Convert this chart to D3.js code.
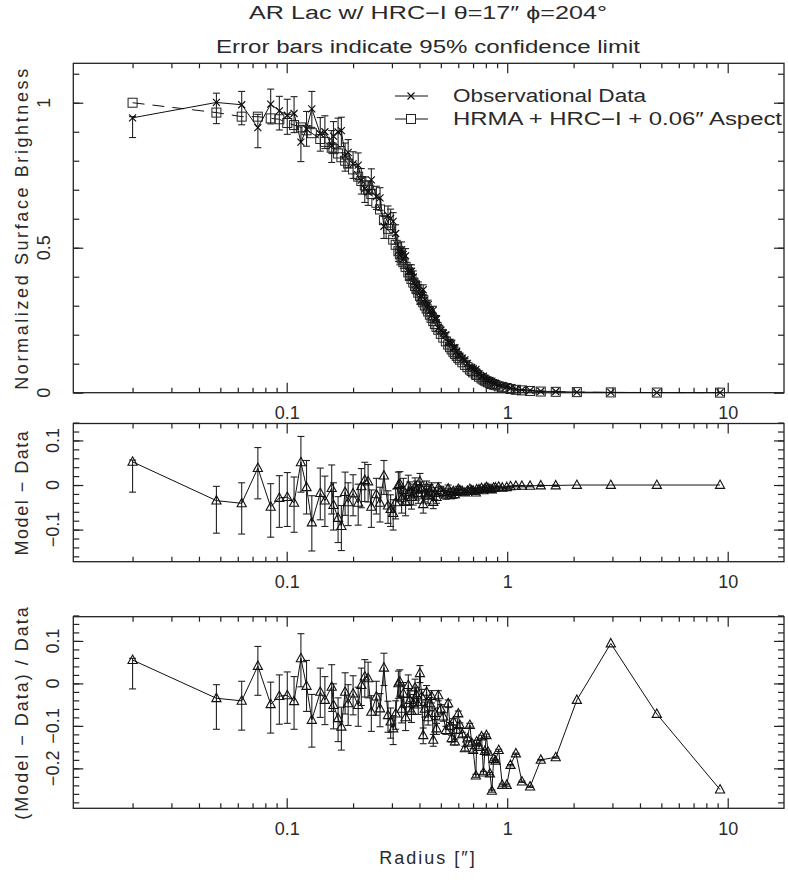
<!DOCTYPE html>
<html>
<head>
<meta charset="utf-8">
<script src="https://cdn.jsdelivr.net/npm/d3@7"></script>
<style>
  body { margin: 0; background: #fff; }
  svg text { font-family: "Liberation Sans", Arial, sans-serif; font-size: 18px; fill: #2a2a2a; }
</style>
</head>
<body>
<div id="chart"></div>
<script>
// radius of each annulus (arcsec)
const radius = [0.020, 0.048, 0.0625, 0.074, 0.0846, 0.0926, 0.1006, 0.108, 0.116, 0.123,
  0.130, 0.142, 0.149, 0.160, 0.163, 0.171, 0.177, 0.184, 0.190, 0.200,
  0.211, 0.218, 0.226, 0.234, 0.242, 0.255, 0.265, 0.276, 0.288, 0.296,
  0.304, 0.312, 0.321, 0.326, 0.332, 0.338, 0.346, 0.356, 0.362, 0.368,
  0.375, 0.382, 0.388, 0.395, 0.402, 0.409, 0.416, 0.423, 0.431, 0.438,
  0.446, 0.454, 0.462, 0.470, 0.478, 0.487, 0.500, 0.513, 0.527, 0.540,
  0.550, 0.560, 0.570, 0.579, 0.590, 0.600, 0.610, 0.626, 0.643, 0.660,
  0.677, 0.690, 0.701, 0.721, 0.727, 0.745, 0.765, 0.780, 0.792, 0.805,
  0.818, 0.835, 0.852, 0.868, 0.885, 0.915, 0.950, 0.995, 1.035, 1.095,
  1.166, 1.270, 1.420, 1.660, 2.070, 2.950, 4.770, 9.230];

const obsData = [0.948, 1.001, 0.993, 0.914, 0.995, 0.972, 0.957, 0.963, 0.864, 0.910,
  0.979, 0.893, 0.900, 0.852, 0.885, 0.899, 0.904, 0.816, 0.829, 0.789,
  0.785, 0.733, 0.704, 0.692, 0.734, 0.676, 0.672, 0.574, 0.611, 0.601,
  0.591, 0.549, 0.488, 0.475, 0.493, 0.461, 0.472, 0.417, 0.419, 0.419,
  0.399, 0.372, 0.367, 0.363, 0.326, 0.333, 0.355, 0.320, 0.296, 0.304,
  0.282, 0.266, 0.285, 0.255, 0.254, 0.223, 0.216, 0.206, 0.199, 0.174,
  0.174, 0.171, 0.155, 0.155, 0.143, 0.129, 0.126, 0.119, 0.113, 0.101,
  0.089, 0.087, 0.083, 0.080, 0.071, 0.065, 0.056, 0.057, 0.050, 0.044,
  0.043, 0.042, 0.040, 0.034, 0.032, 0.026, 0.025, 0.021, 0.016, 0.012,
  0.010, 0.008, 0.005, 0.004, 0.002, 0.001, 0.0005, 0.0003];

const modelData = [1.000, 0.966, 0.952, 0.952, 0.946, 0.943, 0.930, 0.923, 0.915, 0.905,
  0.895, 0.875, 0.865, 0.845, 0.840, 0.825, 0.812, 0.800, 0.790, 0.770,
  0.745, 0.730, 0.715, 0.700, 0.685, 0.655, 0.632, 0.595, 0.565, 0.547,
  0.528, 0.510, 0.488, 0.477, 0.463, 0.450, 0.434, 0.415, 0.403, 0.392,
  0.380, 0.368, 0.357, 0.345, 0.334, 0.323, 0.312, 0.301, 0.290, 0.280,
  0.269, 0.258, 0.247, 0.237, 0.227, 0.217, 0.203, 0.190, 0.177, 0.166,
  0.157, 0.149, 0.141, 0.134, 0.127, 0.120, 0.114, 0.105, 0.096, 0.088,
  0.080, 0.075, 0.070, 0.063, 0.061, 0.055, 0.049, 0.045, 0.042, 0.039,
  0.036, 0.033, 0.030, 0.028, 0.026, 0.022, 0.019, 0.016, 0.013, 0.010,
  0.008, 0.006, 0.004, 0.003, 0.002, 0.001, 0.0005, 0.0002];

const modelMinusData = [0.052, -0.035, -0.041, 0.038, -0.049, -0.029, -0.027, -0.040, 0.051, -0.005,
  -0.084, -0.018, -0.035, -0.007, -0.045, -0.074, -0.092, -0.016, -0.039, -0.019,
  -0.040, -0.003, 0.011, 0.008, -0.049, -0.021, -0.040, 0.021, -0.046, -0.054,
  -0.063, -0.039, 0.000, 0.002, -0.030, -0.011, -0.038, -0.002, -0.016, -0.027,
  -0.019, -0.004, -0.010, -0.018, 0.008, -0.010, -0.043, -0.019, -0.006, -0.024,
  -0.013, -0.008, -0.038, -0.018, -0.027, -0.006, -0.013, -0.016, -0.022, -0.008,
  -0.017, -0.022, -0.014, -0.021, -0.016, -0.009, -0.012, -0.014, -0.017, -0.013,
  -0.009, -0.012, -0.013, -0.017, -0.010, -0.010, -0.007, -0.012, -0.008, -0.005,
  -0.007, -0.009, -0.010, -0.006, -0.006, -0.004, -0.006, -0.005, -0.003, -0.002,
  -0.002, -0.002, -0.001, -0.001, 0.000, 0.000, 0.000, 0.000];

const fracResidual = [0.055, -0.035, -0.041, 0.041, -0.049, -0.030, -0.028, -0.042, 0.059, -0.006,
  -0.086, -0.020, -0.039, -0.008, -0.051, -0.082, -0.102, -0.020, -0.047, -0.024,
  -0.051, -0.004, 0.016, 0.012, -0.067, -0.031, -0.059, 0.037, -0.075, -0.090,
  -0.106, -0.071, 0.000, 0.004, -0.060, -0.024, -0.080, -0.004, -0.039, -0.065,
  -0.047, -0.010, -0.028, -0.050, 0.024, -0.031, -0.122, -0.060, -0.020, -0.080,
  -0.047, -0.030, -0.133, -0.070, -0.106, -0.028, -0.060, -0.078, -0.110, -0.047,
  -0.100, -0.129, -0.090, -0.137, -0.110, -0.071, -0.098, -0.120, -0.153, -0.130,
  -0.098, -0.140, -0.157, -0.217, -0.137, -0.150, -0.125, -0.210, -0.159, -0.122,
  -0.161, -0.212, -0.253, -0.178, -0.182, -0.157, -0.239, -0.239, -0.192, -0.165,
  -0.231, -0.243, -0.180, -0.174, -0.039, 0.094, -0.072, -0.250];

// 95% confidence limits (upper / lower extent)
const errUp = [0.004, 0.032, 0.046, 0.046, 0.052, 0.050, 0.055, 0.058, 0.058, 0.060,
  0.060, 0.056, 0.055, 0.052, 0.050, 0.048, 0.046, 0.045, 0.044, 0.042,
  0.042, 0.040, 0.040, 0.038, 0.038, 0.036, 0.035, 0.034, 0.033, 0.032,
  0.030, 0.030, 0.029, 0.028, 0.027, 0.026, 0.025, 0.024, 0.023, 0.022,
  0.021, 0.020, 0.019, 0.019, 0.018, 0.017, 0.017, 0.016, 0.015, 0.015,
  0.014, 0.013, 0.013, 0.012, 0.012, 0.011, 0.010, 0.009, 0.009, 0.008,
  0.008, 0.007, 0.007, 0.006, 0.006, 0.006, 0.005, 0.005, 0.005, 0.004,
  0.004, 0.004, 0.004, 0.003, 0.003, 0.003, 0.003, 0.003, 0.003, 0.003,
  0.002, 0.002, 0.002, 0.002, 0.002, 0.002, 0.002, 0.002, 0.001, 0.001,
  0.001, 0.001, 0.001, 0.001, 0, 0, 0, 0];

const errDown = [0.068, 0.073, 0.069, 0.069, 0.068, 0.066, 0.066, 0.066, 0.067, 0.060,
  0.064, 0.060, 0.058, 0.058, 0.056, 0.055, 0.055, 0.052, 0.052, 0.050,
  0.050, 0.048, 0.048, 0.046, 0.046, 0.044, 0.043, 0.042, 0.040, 0.039,
  0.038, 0.037, 0.035, 0.034, 0.033, 0.032, 0.031, 0.029, 0.028, 0.027,
  0.026, 0.025, 0.024, 0.023, 0.022, 0.021, 0.020, 0.019, 0.018, 0.018,
  0.017, 0.016, 0.015, 0.015, 0.014, 0.013, 0.012, 0.011, 0.010, 0.010,
  0.009, 0.009, 0.008, 0.008, 0.007, 0.007, 0.006, 0.006, 0.006, 0.005,
  0.005, 0.005, 0.005, 0.004, 0.004, 0.004, 0.004, 0.004, 0.004, 0.004,
  0.003, 0.003, 0.003, 0.003, 0.003, 0.003, 0.003, 0.003, 0.002, 0.002,
  0.002, 0.002, 0.002, 0.002, 0, 0, 0, 0];

const xMajorTicks = [0.1, 1, 10];
const xTickLabels = ["0.1", "1", "10"];

const width = 788;
const height = 888;
const left = 73.3, right = 784;

const svg = d3.select("#chart")
  .append("svg")
  .attr("width", width)
  .attr("height", height);

const x = d3.scaleLog().domain([0.01077, 18.0]).range([left, right]);
const xMinorTicks = x.ticks().filter(v => !xMajorTicks.some(m => Math.abs(m - v) < 1e-9));

const panels = [
  { top: 63.3, bottom: 392.7, domain: [0, 1.136], major: [0, 0.5, 1], minor: d3.range(0.1, 1.15, 0.1),
    labels: ["0", "0.5", "1"], labelX: 44, title: "Normalized Surface Brightness", spacing: "2.6px" },
  { top: 423.5, bottom: 561.7, domain: [-0.172, 0.138], major: [-0.1, 0, 0.1], minor: d3.range(-0.16, 0.14, 0.02),
    labels: ["\u22120.1", "0", "0.1"], labelX: 53, title: "Model \u2212 Data", spacing: "1.5px" },
  { top: 616.7, bottom: 808.3, domain: [-0.294, 0.157], major: [-0.2, -0.1, 0, 0.1], minor: d3.range(-0.28, 0.16, 0.02),
    labels: ["\u22120.2", "\u22120.1", "0", "0.1"], labelX: 53, title: "(Model \u2212 Data) / Data", spacing: "2px" }
];

panels.forEach(p => {
  p.y = d3.scaleLinear().domain(p.domain).range([p.bottom, p.top]);
});

const crossPath = "M-3.5,-3.5L3.5,3.5M-3.5,3.5L3.5,-3.5";
const trianglePath = "M0,-5L4.6,3.4L-4.6,3.4Z";

function drawAxes(p) {
  const g = svg.append("g");
  const noDomain = sel => sel.select(".domain").remove();

  // x ticks: bottom with labels, top without
  g.append("g")
    .attr("transform", `translate(0,${p.bottom})`)
    .call(d3.axisBottom(x).tickValues(xMajorTicks).tickSize(-10).tickPadding(14)
      .tickFormat((d, i) => xTickLabels[i]))
    .call(noDomain);
  g.append("g")
    .attr("transform", `translate(0,${p.bottom})`)
    .call(d3.axisBottom(x).tickValues(xMinorTicks).tickSize(-5).tickFormat(""))
    .call(noDomain);
  g.append("g")
    .attr("transform", `translate(0,${p.top})`)
    .call(d3.axisTop(x).tickValues(xMajorTicks).tickSize(-10).tickFormat(""))
    .call(noDomain);
  g.append("g")
    .attr("transform", `translate(0,${p.top})`)
    .call(d3.axisTop(x).tickValues(xMinorTicks).tickSize(-5).tickFormat(""))
    .call(noDomain);

  // y ticks on both sides
  [[d3.axisLeft, left], [d3.axisRight, right]].forEach(([axis, pos]) => {
    g.append("g")
      .attr("transform", `translate(${pos},0)`)
      .call(axis(p.y).tickValues(p.major).tickSize(-10).tickFormat(""))
      .call(noDomain);
    g.append("g")
      .attr("transform", `translate(${pos},0)`)
      .call(axis(p.y).tickValues(p.minor).tickSize(-6).tickFormat(""))
      .call(noDomain);
  });

  g.selectAll(".tick line").attr("stroke", "#222").attr("stroke-width", 1.2);
  g.selectAll(".tick text").attr("font-size", 18).attr("font-family", "Liberation Sans, Arial, sans-serif").attr("fill", "#2a2a2a");

  // rotated y tick labels
  g.selectAll(".ylab")
    .data(p.major)
    .join("text")
    .attr("transform", (d, i) => `translate(${p.labelX},${p.y(d)}) rotate(-90)`)
    .attr("text-anchor", "middle")
    .attr("dy", "0.35em")
    .text((d, i) => p.labels[i]);

  g.append("text")
    .attr("transform", `translate(22,${(p.top + p.bottom) / 2}) rotate(-90)`)
    .attr("text-anchor", "middle")
    .attr("dy", "0.35em")
    .attr("letter-spacing", p.spacing)
    .text(p.title);

  g.append("rect")
    .attr("x", left).attr("y", p.top)
    .attr("width", right - left).attr("height", p.bottom - p.top)
    .attr("fill", "none").attr("stroke", "#222").attr("stroke-width", 1.3);
}

function errorBars(g, y, vals) {
  const bars = g.append("g")
    .attr("stroke", "#222").attr("stroke-width", 1.1)
    .selectAll("g")
    .data(radius.map((r, i) => ({ r, v: vals[i], hi: errUp[i], lo: errDown[i] })).filter(d => d.hi + d.lo > 0))
    .join("g");
  bars.append("line")
    .attr("x1", d => x(d.r)).attr("x2", d => x(d.r))
    .attr("y1", d => y(d.v + d.hi)).attr("y2", d => y(d.v - d.lo));
  bars.append("line")
    .attr("x1", d => x(d.r) - 3.5).attr("x2", d => x(d.r) + 3.5)
    .attr("y1", d => y(d.v + d.hi)).attr("y2", d => y(d.v + d.hi));
  bars.append("line")
    .attr("x1", d => x(d.r) - 3.5).attr("x2", d => x(d.r) + 3.5)
    .attr("y1", d => y(d.v - d.lo)).attr("y2", d => y(d.v - d.lo));
}

panels.forEach(drawAxes);

// top panel: surface brightness profiles
const pTop = panels[0];
const gTop = svg.append("g");
const lineTop = d3.line().x((d, i) => x(radius[i])).y(d => pTop.y(d));

gTop.append("path")
  .datum(modelData)
  .attr("d", lineTop)
  .attr("fill", "none").attr("stroke", "#111").attr("stroke-width", 1)
  .attr("stroke-dasharray", "12,8");

gTop.selectAll(".sq")
  .data(modelData)
  .join("rect")
  .attr("x", (d, i) => x(radius[i]) - 4.5)
  .attr("y", d => pTop.y(d) - 4.5)
  .attr("width", 9).attr("height", 9)
  .attr("fill", "none").attr("stroke", "#222").attr("stroke-width", 1);

errorBars(gTop, pTop.y, obsData);

gTop.append("path")
  .datum(obsData)
  .attr("d", lineTop)
  .attr("fill", "none").attr("stroke", "#111").attr("stroke-width", 1);

gTop.selectAll(".cross")
  .data(obsData)
  .join("path")
  .attr("transform", (d, i) => `translate(${x(radius[i])},${pTop.y(d)})`)
  .attr("d", crossPath)
  .attr("stroke", "#111").attr("stroke-width", 1.2);

// residual panels
[[panels[1], modelMinusData], [panels[2], fracResidual]].forEach(([p, vals]) => {
  const g = svg.append("g");
  errorBars(g, p.y, vals);
  g.append("path")
    .datum(vals)
    .attr("d", d3.line().x((d, i) => x(radius[i])).y(d => p.y(d)))
    .attr("fill", "none").attr("stroke", "#111").attr("stroke-width", 1);
  g.selectAll(".tri")
    .data(vals)
    .join("path")
    .attr("transform", (d, i) => `translate(${x(radius[i])},${p.y(d)})`)
    .attr("d", trianglePath)
    .attr("fill", "none").attr("stroke", "#111").attr("stroke-width", 1.1);
});

// legend
const legend = svg.append("g");
legend.append("line").attr("x1", 395).attr("x2", 428).attr("y1", 96).attr("y2", 96)
  .attr("stroke", "#111");
legend.append("path").attr("transform", "translate(411,96)").attr("d", crossPath)
  .attr("stroke", "#111").attr("stroke-width", 1.2);
legend.append("text").attr("x", 453).attr("y", 96).attr("dy", "0.35em")
  .attr("textLength", 193).attr("lengthAdjust", "spacingAndGlyphs")
  .text("Observational Data");

legend.append("line").attr("x1", 395).attr("x2", 428).attr("y1", 119).attr("y2", 119)
  .attr("stroke", "#111");
legend.append("rect").attr("x", 406.5).attr("y", 114.5).attr("width", 9).attr("height", 9)
  .attr("fill", "#fff").attr("stroke", "#222");
legend.append("text").attr("x", 453).attr("y", 119).attr("dy", "0.35em")
  .attr("textLength", 329).attr("lengthAdjust", "spacingAndGlyphs")
  .text("HRMA + HRC\u2212I + 0.06\u2033 Aspect");

// titles
svg.append("text").attr("x", 428).attr("y", 13).attr("dy", "0.35em")
  .attr("text-anchor", "middle").attr("textLength", 358).attr("lengthAdjust", "spacingAndGlyphs")
  .text("AR Lac w/ HRC\u2212I \u03B8=17\u2033 \u03D5=204\u00B0");
svg.append("text").attr("x", 428).attr("y", 47).attr("dy", "0.35em")
  .attr("text-anchor", "middle").attr("textLength", 424).attr("lengthAdjust", "spacingAndGlyphs")
  .text("Error bars indicate 95% confidence limit");

svg.append("text").attr("x", 428).attr("y", 858).attr("dy", "0.35em")
  .attr("text-anchor", "middle").attr("letter-spacing", "2px")
  .text("Radius [\u2033]");
</script>
</body>
</html>
